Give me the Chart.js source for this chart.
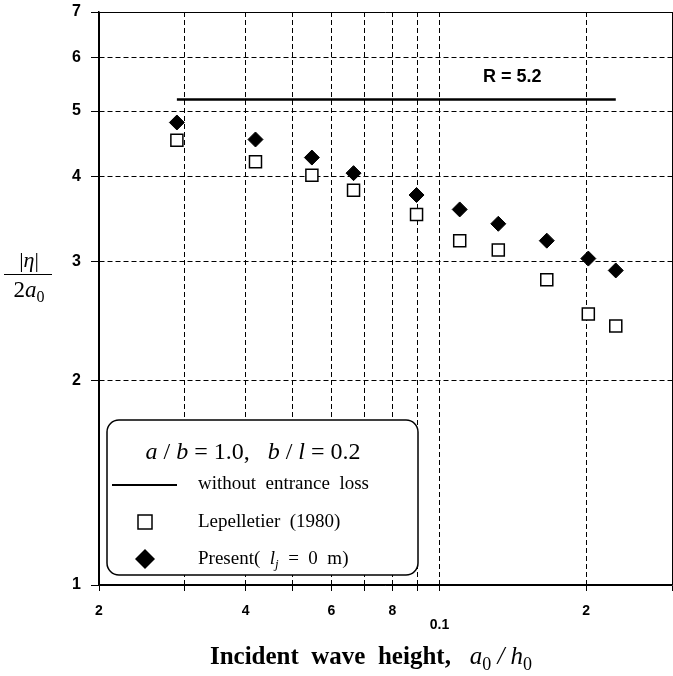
<!DOCTYPE html>
<html>
<head>
<meta charset="utf-8">
<script src="https://cdn.jsdelivr.net/npm/chart.js@4.4.1/dist/chart.umd.min.js"></script>
<style>
html, body { margin: 0; padding: 0; background: #fff; overflow: hidden; }
#wrap { width: 673px; height: 676px; position: relative; }
canvas { display: block; }
</style>
</head>
<body>
<div id="wrap"><canvas id="chart"></canvas></div>
<script>
// values
const waveHeight = [0.0289, 0.0419, 0.0547, 0.0666, 0.0897, 0.110, 0.132, 0.166, 0.202, 0.230];
const lepelletier = [4.53, 4.21, 4.02, 3.82, 3.52, 3.22, 3.12, 2.82, 2.51, 2.41];
const present = [4.81, 4.54, 4.27, 4.05, 3.76, 3.58, 3.41, 3.22, 3.03, 2.91];
const rValue = 5.2;

const xTicks = [0.02, 0.03, 0.04, 0.05, 0.06, 0.07, 0.08, 0.09, 0.1, 0.2, 0.3];
const xTickLabels = ['2', '', '4', '', '6', '', '8', '', '0.1', '2', ''];
const yTicks = [1, 2, 3, 4, 5, 6, 7];

const SERIF = '"Liberation Serif", "DejaVu Serif", serif';
const SANS = '"Liberation Sans", Arial, sans-serif';

// draw a row of text pieces (italic / bold / subscript)
function drawRuns(ctx, runs, x, y, size, align) {
    const fontOf = r => `${r.it ? 'italic ' : ''}${r.b ? 'bold ' : ''}${r.sub ? Math.round(size * 0.7) : size}px ${SERIF}`;
    let total = 0;
    runs.forEach(r => { ctx.font = fontOf(r); total += ctx.measureText(r.t).width; });
    let cx = align === 'center' ? x - total / 2 : x;
    ctx.textAlign = 'left';
    ctx.textBaseline = 'alphabetic';
    runs.forEach(r => {
        ctx.font = fontOf(r);
        ctx.fillText(r.t, cx, y + (r.sub ? size * 0.22 : 0));
        cx += ctx.measureText(r.t).width;
    });
}

const decorations = {
    id: 'decorations',
    afterDraw(chart) {
        const ctx = chart.ctx;
        const xs = chart.scales.x, ys = chart.scales.y;
        ctx.save();
        ctx.fillStyle = '#000';
        ctx.strokeStyle = '#000';

        // R = 5.2 label
        ctx.font = `bold 18px ${SANS}`;
        ctx.textAlign = 'center';
        ctx.textBaseline = 'middle';
        ctx.fillText('R = 5.2', xs.getPixelForValue(0.141), ys.getPixelForValue(5.61));

        // legend box
        ctx.beginPath();
        ctx.roundRect(107, 420, 311, 155, 12);
        ctx.fillStyle = '#fff';
        ctx.fill();
        ctx.lineWidth = 1.5;
        ctx.stroke();
        ctx.fillStyle = '#000';

        drawRuns(ctx, [
            { t: 'a', it: true }, { t: ' / ' }, { t: 'b', it: true },
            { t: ' = 1.0,   ' }, { t: 'b', it: true }, { t: ' / ' }, { t: 'l', it: true },
            { t: ' = 0.2' }
        ], 253, 459, 24, 'center');

        ctx.lineWidth = 2;
        ctx.beginPath();
        ctx.moveTo(112, 485);
        ctx.lineTo(177, 485);
        ctx.stroke();
        drawRuns(ctx, [{ t: 'without  entrance  loss' }], 198, 489, 19, 'left');

        ctx.lineWidth = 1.5;
        ctx.fillStyle = '#fff';
        ctx.fillRect(138, 515, 14, 14);
        ctx.strokeRect(138, 515, 14, 14);
        ctx.fillStyle = '#000';
        drawRuns(ctx, [{ t: 'Lepelletier  (1980)' }], 198, 527, 19, 'left');

        ctx.beginPath();
        ctx.moveTo(145, 549);
        ctx.lineTo(155, 559);
        ctx.lineTo(145, 569);
        ctx.lineTo(135, 559);
        ctx.closePath();
        ctx.fill();
        drawRuns(ctx, [
            { t: 'Present(  ' }, { t: 'l', it: true }, { t: 'j', it: true, sub: true },
            { t: '  =  0  m)' }
        ], 198, 564, 19, 'left');

        // y axis title as a fraction
        drawRuns(ctx, [{ t: '|' }, { t: 'η', it: true }, { t: '|' }], 29, 267, 22, 'center');
        ctx.lineWidth = 1;
        ctx.beginPath();
        ctx.moveTo(4, 274.5);
        ctx.lineTo(52, 274.5);
        ctx.stroke();
        drawRuns(ctx, [{ t: '2' }, { t: 'a', it: true }, { t: '0', sub: true }], 29, 297, 23, 'center');

        // x axis title
        drawRuns(ctx, [
            { t: 'Incident  wave  height,   ', b: true },
            { t: 'a', it: true }, { t: '0', sub: true }, { t: ' / ', it: true },
            { t: 'h', it: true }, { t: '0', sub: true }
        ], 371, 664, 25, 'center');

        ctx.restore();
    }
};

new Chart(document.getElementById('chart'), {
    type: 'scatter',
    data: {
        datasets: [
            {
                label: 'without entrance loss',
                type: 'line',
                data: [{ x: waveHeight[0], y: rValue }, { x: waveHeight[waveHeight.length - 1], y: rValue }],
                borderColor: '#000',
                borderWidth: 2.5,
                pointRadius: 0,
                fill: false
            },
            {
                label: 'Lepelletier (1980)',
                data: waveHeight.map((x, i) => ({ x: x, y: lepelletier[i] })),
                pointStyle: 'rect',
                pointRadius: 8.5,
                backgroundColor: '#fff',
                borderColor: '#000',
                borderWidth: 1.5
            },
            {
                label: 'Present',
                data: waveHeight.map((x, i) => ({ x: x, y: present[i] })),
                pointStyle: 'rectRot',
                pointRadius: 7.5,
                backgroundColor: '#000',
                borderColor: '#000',
                borderWidth: 1
            }
        ]
    },
    options: {
        responsive: true,
        maintainAspectRatio: false,
        animation: false,
        layout: { autoPadding: false, padding: { top: 12, right: 1, left: 0, bottom: 0 } },
        plugins: {
            legend: { display: false },
            tooltip: { enabled: false }
        },
        scales: {
            x: {
                type: 'logarithmic',
                min: 0.02,
                max: 0.3,
                afterBuildTicks: s => { s.ticks = xTicks.map(v => ({ value: v })); },
                afterFit: s => { s.height = 91; s.paddingLeft = 0; s.paddingRight = 0; },
                ticks: {
                    autoSkip: false,
                    maxRotation: 0,
                    padding: 13,
                    color: '#000',
                    font: { family: SANS, size: 14, weight: 'bold', lineHeight: 1 },
                    callback: (v, i) => xTickLabels[i] === '0.1' ? ['', '0.1'] : xTickLabels[i]
                },
                grid: { color: '#000', lineWidth: 1, tickLength: 6, tickColor: '#000' },
                border: {
                    display: true, color: '#000', width: 1.5,
                    dash: c => (c.tick && (c.tick.value === 0.3 || c.tick.value === 0.02)) ? [] : [5, 3]
                }
            },
            y: {
                type: 'logarithmic',
                min: 1,
                max: 7,
                afterBuildTicks: s => { s.ticks = yTicks.map(v => ({ value: v })); },
                afterFit: s => { s.width = 99; s.paddingTop = 0; s.paddingBottom = 0; },
                ticks: {
                    autoSkip: false,
                    padding: 10,
                    color: '#000',
                    font: { family: SANS, size: 16, weight: 'bold' },
                    callback: v => String(v)
                },
                grid: { color: '#000', lineWidth: 1, tickLength: 8, tickColor: '#000' },
                border: {
                    display: true, color: '#000', width: 1.5,
                    dash: c => (c.tick && (c.tick.value === 7 || c.tick.value === 1)) ? [] : [5, 3]
                }
            }
        }
    },
    plugins: [decorations]
});
</script>
</body>
</html>
